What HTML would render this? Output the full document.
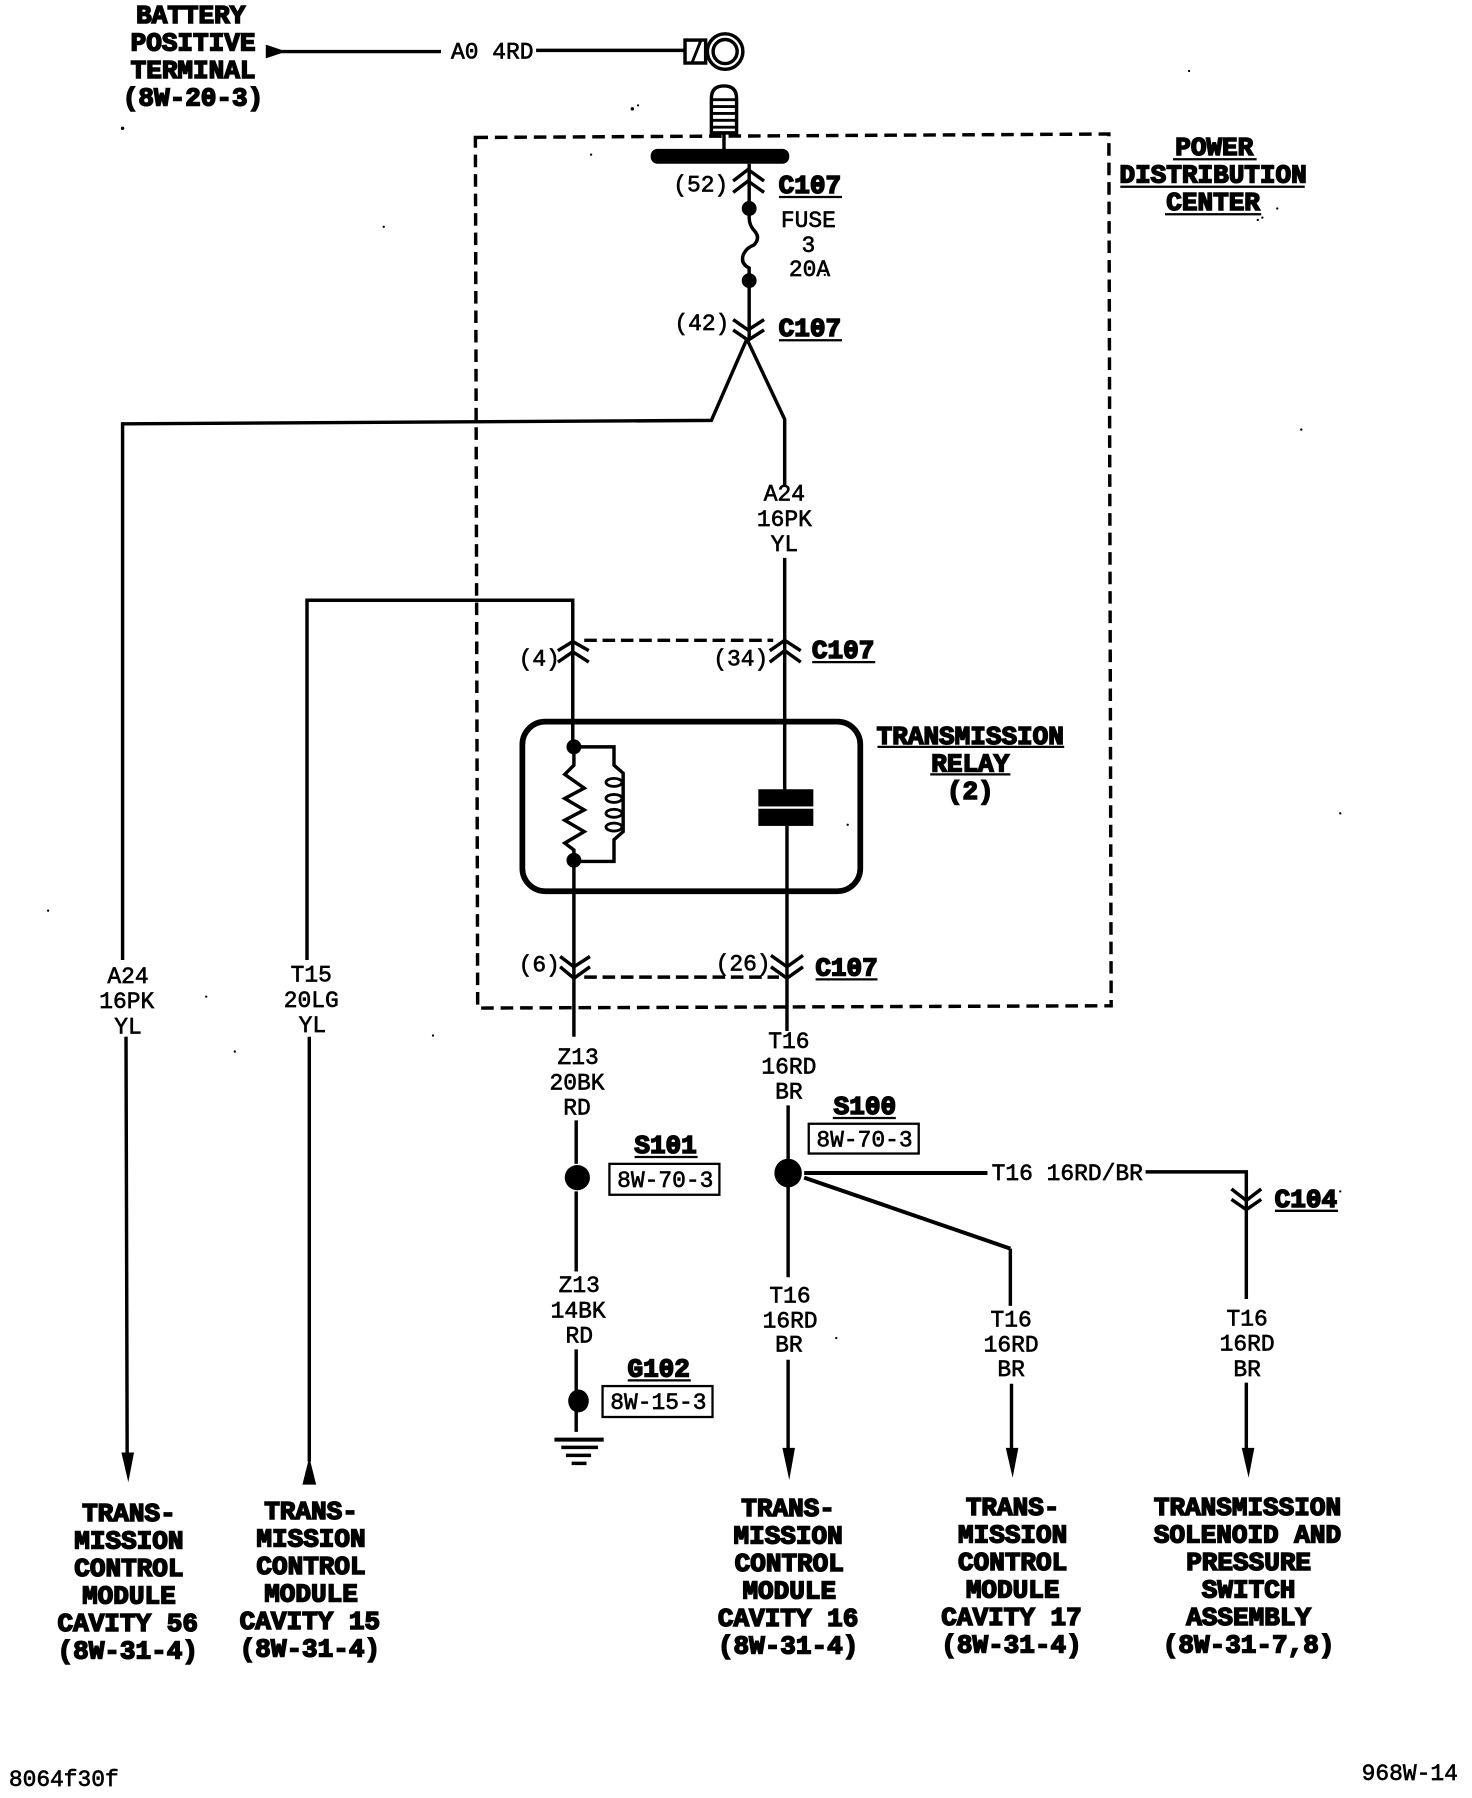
<!DOCTYPE html>
<html><head><meta charset="utf-8"><style>
html,body{margin:0;padding:0;background:#fff}
svg{display:block}
text{font-family:"Liberation Mono",monospace;fill:#000;text-anchor:middle}
.t{font-size:20px;stroke:#000;stroke-width:.55}
.h{font-size:22.7px;font-weight:bold;stroke:#000;stroke-width:1.4}
.w{fill:none;stroke:#000;stroke-width:3}
</style></head><body>
<svg xmlns="http://www.w3.org/2000/svg" width="1472" height="1798" viewBox="0 0 1285 1569.6">
<rect width="1285" height="1569.6" fill="#fff"/>
<!-- power distribution box -->
<path class="w" stroke-dasharray="11 6" d="M415 120 L968 117 L970 878 L417 880 Z"/>
<!-- battery -->
<path d="M232 39 L250 45 L232 51Z"/>
<path class="w" d="M246 45H385M468 44H597"/>
<rect x="598" y="35" width="18" height="20" class="w"/>
<path class="w" style="stroke-width:2.5" d="M602 35H612L604 55"/>
<circle cx="633" cy="45" r="15.5" fill="#fff" stroke="#000" stroke-width="3"/>
<circle cx="633" cy="45" r="10.5" fill="none" stroke="#000" stroke-width="3"/>
<path class="w" d="M621 116V86Q621 75 632 75Q643 75 643 86V116H621Z"/>
<path class="w" style="stroke-width:2.5" d="M621 87H643M621 93H643M621 99H643M621 105H643M621 111H643"/>
<path class="w" d="M632 116V132"/>
<rect x="568" y="130" width="121" height="13" rx="6" fill="#000"/>
<!-- fuse -->
<path class="w" d="M654 143V190Q654 197 659 202Q664 208 658 214Q652 216 649 222Q646 230 654 234V296"/>
<path class="w" d="M640 158L653 148L667 158M640 168L653 158L667 168"/>
<circle cx="654" cy="182" r="6.5"/><circle cx="654" cy="245" r="6.5"/>
<path class="w" d="M640 279L653 288L667 279M640 288L653 297L667 288"/>
<!-- branches -->
<path class="w" d="M652 296L621 367L107 370V838M110 905L111 1268"/>
<path d="M106 1268H117L112 1294Z"/>
<path class="w" d="M652 296L685 366V425M685 487V560"/>
<path class="w" d="M268 838V524H500V652"/>
<path class="w" d="M270 905V1276"/>
<path d="M270 1272L276 1296H264Z"/>
<!-- connectors top -->
<path class="w" stroke-dasharray="11 5" d="M510 559H675"/>
<path class="w" d="M487 568L500 560L514 568M487 578L500 569L514 578"/>
<path class="w" d="M672 568L685 559L699 568M672 578L685 568L699 578"/>
<path class="w" d="M685 560V690"/>
<!-- relay -->
<rect x="456" y="630" width="295" height="148" rx="20" fill="none" stroke="#000" stroke-width="5"/>
<path class="w" d="M501 652V668L493 676L510 688L493 697L510 707L493 716L510 726L493 736L501 742V905"/>
<circle cx="501" cy="652" r="6.5"/><circle cx="501" cy="751" r="6.5"/>
<path class="w" d="M501 652H536V668L544 675V726L536 733V752H501"/>
<g fill="#fff" stroke="#000" stroke-width="2.5"><ellipse cx="536" cy="683" rx="7" ry="3.5"/><ellipse cx="536" cy="697" rx="7" ry="3.5"/><ellipse cx="536" cy="710" rx="7" ry="3.5"/><ellipse cx="536" cy="722" rx="7" ry="3.5"/></g>
<rect x="662" y="689" width="48" height="15"/><rect x="662" y="706" width="48" height="15"/>
<path class="w" d="M687 721V900"/>
<!-- connectors bottom -->
<path class="w" stroke-dasharray="11 5" d="M510 853H680"/>
<path class="w" d="M489 835L501 844L515 835M489 844L501 854L515 844"/>
<path class="w" d="M673 834L687 844L701 834M673 844L687 854L701 844"/>
<!-- lower -->
<path class="w" d="M503 978V1016M503 1040V1110M503 1178V1250"/>
<circle cx="504" cy="1028" r="11"/><ellipse cx="505" cy="1223" rx="9" ry="10"/>
<path d="M484 1255h43v3.5h-43zM490 1262h32v3h-32zM494 1269h22v3h-22zM499 1276h13v3h-13z"/>
<path class="w" d="M688 965V1012M688 1036V1115M688 1187V1265"/>
<ellipse cx="688" cy="1024" rx="12" ry="12.5"/>
<path class="w" style="stroke-width:3.5" d="M702 1024H862"/>
<path class="w" d="M1000 1023H1088V1134M1088 1207V1265"/>
<path class="w" d="M1075 1038L1088 1048L1101 1038M1075 1047L1088 1056L1101 1047"/>
<path class="w" style="stroke-width:3.5" d="M702 1028L882 1090"/>
<path class="w" d="M882 1090V1140M883 1208V1265"/>
<path d="M683 1264H694L689 1292Z"/><path d="M878 1264H889L884 1290Z"/><path d="M1084 1264H1095L1090 1290Z"/>
<!-- ref boxes -->
<g fill="none" stroke="#000" stroke-width="2"><rect x="706" y="981" width="96" height="26"/><rect x="532" y="1016" width="96" height="27"/><rect x="526" y="1210" width="96" height="27"/></g>
<!-- underlines -->
<path class="w" style="stroke-width:2" d="M680 172H735M680 297H735M709 578H764M712 855H766M766 652H929M812 676H882M1024 139H1097M978 163H1139M1017 187H1101M727 976H782M554 1010H609M548 1205H603M1113 1057H1168"/>
<!-- specks -->
<g>
<circle cx="552" cy="95" r="1.5"/><circle cx="557" cy="92" r="1"/><circle cx="107" cy="112" r="1.5"/><circle cx="335" cy="198" r="1"/><circle cx="516" cy="135" r="1"/><circle cx="1038" cy="62" r="1"/><circle cx="1102" cy="190" r="1"/><circle cx="1115" cy="182" r="1"/><circle cx="1098" cy="192" r="1"/><circle cx="378" cy="904" r="1"/><circle cx="205" cy="918" r="1"/><circle cx="180" cy="870" r="1"/><circle cx="42" cy="795" r="1"/><circle cx="730" cy="1168" r="1"/><circle cx="1170" cy="1040" r="1"/><circle cx="1097" cy="1240" r="0"/><circle cx="1136" cy="375" r="1"/><circle cx="1170" cy="710" r="1"/><circle cx="740" cy="720" r="1"/><circle cx="720" cy="240" r="1"/>
</g>
<!-- thin labels -->
<g class="t" transform="translate(.7,0)">
<text x="429" y="51">A0 4RD</text>
<text x="611" y="167">(52)</text><text x="612" y="288">(42)</text>
<text x="705" y="198">FUSE</text><text x="705" y="220">3</text><text x="706" y="241">20A</text>
<text x="684" y="437">A24</text><text x="684" y="459">16PK</text><text x="684" y="481">YL</text>
<text x="470" y="581">(4)</text><text x="646" y="581">(34)</text><text x="470" y="848">(6)</text><text x="648" y="847">(26)</text>
<text x="111" y="858">A24</text><text x="110" y="880">16PK</text><text x="111" y="902">YL</text>
<text x="271" y="857">T15</text><text x="271" y="879">20LG</text><text x="272" y="901">YL</text>
<text x="504" y="929">Z13</text><text x="503" y="951">20BK</text><text x="503" y="973">RD</text>
<text x="505" y="1128">Z13</text><text x="504" y="1150">14BK</text><text x="505" y="1172">RD</text>
<text x="688" y="915">T16</text><text x="688" y="937">16RD</text><text x="688" y="959">BR</text>
<text x="689" y="1137">T16</text><text x="689" y="1159">16RD</text><text x="688" y="1180">BR</text>
<text x="882" y="1158">T16</text><text x="882" y="1180">16RD</text><text x="882" y="1201">BR</text>
<text x="1088" y="1157">T16</text><text x="1088" y="1179">16RD</text><text x="1088" y="1201">BR</text>
<text x="931" y="1030">T16 16RD/BR</text>
<text x="754" y="1001">8W-70-3</text><text x="580" y="1036">8W-70-3</text><text x="574" y="1230">8W-15-3</text>
<text x="55" y="1559">8064f30f</text><text x="1230" y="1554">968W-14</text>
</g>
<!-- heavy labels -->
<g class="h" transform="translate(.5,0)">
<text x="166" y="20">BATTERY</text><text x="168" y="44">POSITIVE</text><text x="168" y="68">TERMINAL</text><text x="168" y="92">(8W-20-3)</text>
<text x="112" y="1328">TRANS-</text><text x="112" y="1352">MISSION</text><text x="112" y="1376">CONTROL</text><text x="112" y="1400">MODULE</text><text x="111" y="1424">CAVITY 56</text><text x="111" y="1448">(8W-31-4)</text>
<text x="271" y="1326">TRANS-</text><text x="271" y="1350">MISSION</text><text x="271" y="1374">CONTROL</text><text x="271" y="1398">MODULE</text><text x="270" y="1422">CAVITY 15</text><text x="270" y="1446">(8W-31-4)</text>
</g>
<g class="h" transform="translate(1,0.5)">
<text x="706" y="168">C107</text><text x="706" y="293">C107</text><text x="735" y="574">C107</text><text x="738" y="851">C107</text>
<text x="1059" y="135">POWER</text><text x="1058" y="159">DISTRIBUTION</text><text x="1058" y="183">CENTER</text>
<text x="846" y="649">TRANSMISSION</text><text x="846" y="673">RELAY</text><text x="846" y="697">(2)</text>
<text x="754" y="972">S100</text><text x="580" y="1006">S101</text><text x="574" y="1201">G102</text><text x="1139" y="1053">C104</text>
<text x="687" y="1323">TRANS-</text><text x="687" y="1347">MISSION</text><text x="688" y="1371">CONTROL</text><text x="688" y="1395">MODULE</text><text x="687" y="1419">CAVITY 16</text><text x="687" y="1443">(8W-31-4)</text>
<text x="883" y="1322">TRANS-</text><text x="883" y="1346">MISSION</text><text x="883" y="1370">CONTROL</text><text x="883" y="1394">MODULE</text><text x="882" y="1418">CAVITY 17</text><text x="882" y="1442">(8W-31-4)</text>
<text x="1088" y="1322">TRANSMISSION</text><text x="1088" y="1346">SOLENOID AND</text><text x="1089" y="1370">PRESSURE</text><text x="1089" y="1394">SWITCH</text><text x="1089" y="1418">ASSEMBLY</text><text x="1089" y="1442">(8W-31-7,8)</text>
</g>
</svg>
</body></html>
